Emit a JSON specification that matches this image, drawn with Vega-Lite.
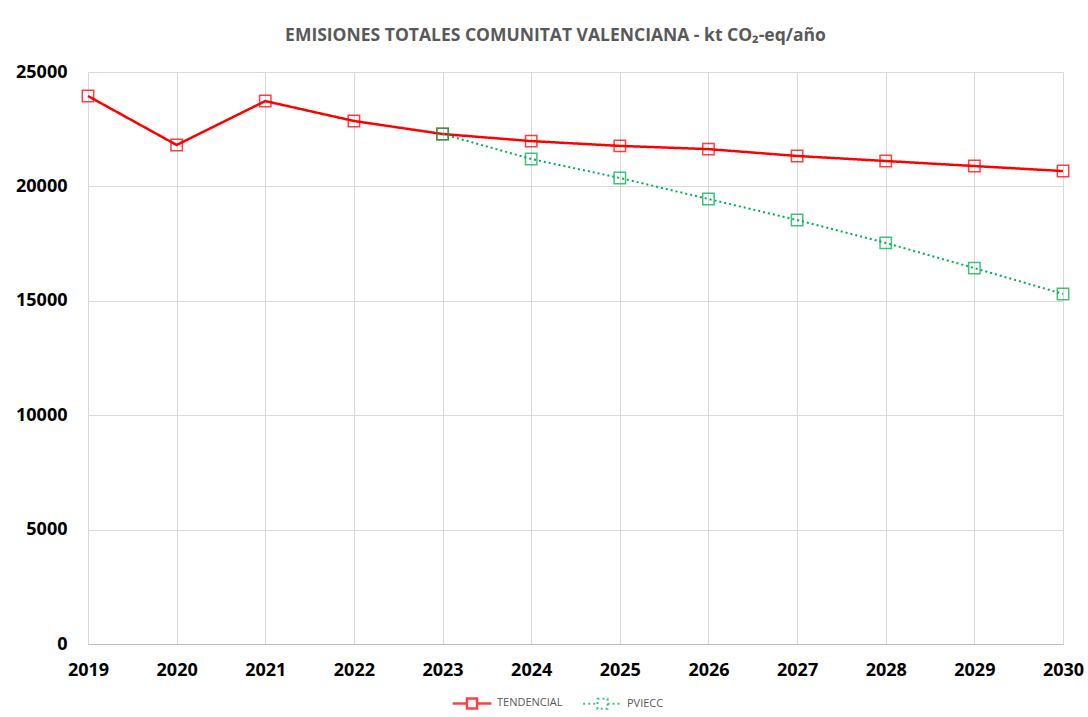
{
  "$schema": "https://vega.github.io/schema/vega-lite/v6.json",
  "width": 975,
  "height": 572,
  "autosize": {"type": "none"},
  "padding": {"left": 88, "top": 72, "right": 25, "bottom": 73},
  "background": "white",
  "title": {
    "text": "EMISIONES TOTALES COMUNITAT VALENCIANA - kt CO₂-eq/año",
    "font": "Open Sans",
    "fontSize": 17.5,
    "fontWeight": "bold",
    "color": "#595959",
    "anchor": "middle",
    "offset": 19,
    "dx": -20
  },
  "data": {
    "values": [
      {"year": 2019, "series": "TENDENCIAL", "value": 23950},
      {"year": 2020, "series": "TENDENCIAL", "value": 21810},
      {"year": 2021, "series": "TENDENCIAL", "value": 23730},
      {"year": 2022, "series": "TENDENCIAL", "value": 22860},
      {"year": 2023, "series": "TENDENCIAL", "value": 22290},
      {"year": 2024, "series": "TENDENCIAL", "value": 21980},
      {"year": 2025, "series": "TENDENCIAL", "value": 21770},
      {"year": 2026, "series": "TENDENCIAL", "value": 21630},
      {"year": 2027, "series": "TENDENCIAL", "value": 21330},
      {"year": 2028, "series": "TENDENCIAL", "value": 21110},
      {"year": 2029, "series": "TENDENCIAL", "value": 20890},
      {"year": 2030, "series": "TENDENCIAL", "value": 20670},
      {"year": 2023, "series": "PVIECC", "value": 22290},
      {"year": 2024, "series": "PVIECC", "value": 21200},
      {"year": 2025, "series": "PVIECC", "value": 20370},
      {"year": 2026, "series": "PVIECC", "value": 19450},
      {"year": 2027, "series": "PVIECC", "value": 18530},
      {"year": 2028, "series": "PVIECC", "value": 17530},
      {"year": 2029, "series": "PVIECC", "value": 16430},
      {"year": 2030, "series": "PVIECC", "value": 15300}
    ]
  },
  "encoding": {
    "x": {
      "field": "year",
      "type": "quantitative",
      "scale": {"domain": [2019, 2030], "nice": false, "zero": false},
      "axis": {
        "title": null,
        "values": [2019, 2020, 2021, 2022, 2023, 2024, 2025, 2026, 2027, 2028, 2029, 2030],
        "format": "d",
        "labelFont": "Open Sans",
        "labelFontSize": 18,
        "labelFontWeight": "bold",
        "labelColor": "#000000",
        "labelPadding": 17,
        "ticks": false,
        "domainColor": "#bfbfbf",
        "gridColor": "#d9d9d9",
        "labelFlush": false
      }
    },
    "y": {
      "field": "value",
      "type": "quantitative",
      "scale": {"domain": [0, 25000], "nice": false},
      "axis": {
        "title": null,
        "values": [0, 5000, 10000, 15000, 20000, 25000],
        "format": "d",
        "labelFont": "Open Sans",
        "labelFontSize": 18,
        "labelFontWeight": "bold",
        "labelColor": "#000000",
        "labelPadding": 21,
        "ticks": false,
        "domain": false,
        "gridColor": "#d9d9d9"
      }
    },
    "color": {
      "field": "series",
      "type": "nominal",
      "scale": {"domain": ["TENDENCIAL", "PVIECC"], "range": ["#ff0000", "#00b050"]},
      "legend": {
        "title": null,
        "orient": "none",
        "legendX": 363,
        "legendY": 610,
        "direction": "horizontal",
        "labelFont": "Open Sans",
        "labelFontSize": 11,
        "labelColor": "#595959",
        "labelOffset": 4,
        "symbolType": "M-1,0H-0.26M0.26,0H1M-0.26,-0.26H0.26V0.26H-0.26Z",
        "symbolSize": 1500,
        "symbolStrokeWidth": 2,
        "columnPadding": 16
      }
    }
  },
  "layer": [
    {
      "mark": {"type": "line"},
      "encoding": {
        "strokeDash": {
          "field": "series",
          "type": "nominal",
          "scale": {"domain": ["TENDENCIAL", "PVIECC"], "range": [[1, 0], [2, 3]]},
          "legend": null
        },
        "strokeWidth": {
          "field": "series",
          "type": "nominal",
          "scale": {"domain": ["TENDENCIAL", "PVIECC"], "range": [2.5, 2]},
          "legend": null
        }
      }
    },
    {
      "mark": {"type": "point", "shape": "square", "filled": false, "size": 130, "strokeWidth": 1.5, "opacity": 0.75}
    }
  ],
  "config": {
    "view": {"stroke": "#d9d9d9"}
  }
}
